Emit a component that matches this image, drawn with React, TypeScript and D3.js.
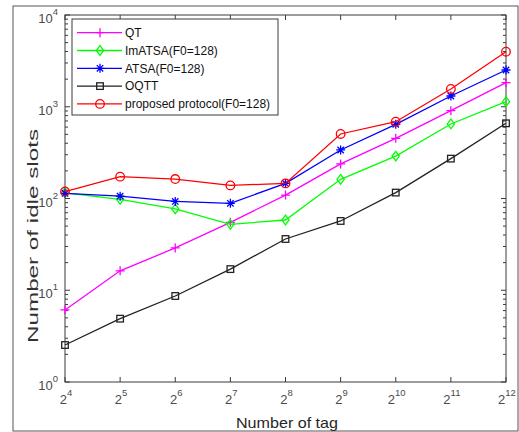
import React from "react";
import * as d3 from "d3";

const exponents = [4, 5, 6, 7, 8, 9, 10, 11, 12];
const qt = [6.1, 16.3, 28.9, 55, 109, 238, 453, 906, 1829];
const imatsa = [115, 98, 77, 52.3, 58.3, 162, 290, 649, 1136];
const atsa = [114, 106, 93, 88.6, 146, 338, 643, 1309, 2514];
const oqtt = [2.53, 4.9, 8.66, 17, 36.2, 56.9, 116, 272, 660];
const proposed = [119, 173, 163, 139, 146, 505, 687, 1561, 3981];
const seriesNames = ["QT", "ImATSA(F0=128)", "ATSA(F0=128)", "OQTT", "proposed protocol(F0=128)"];
const yDecades = [0, 1, 2, 3, 4];

const W = 519, H = 432;
const L = 65, R = 506, T = 15, B = 382;
const FONT = "'Liberation Sans', Arial, Helvetica, sans-serif";

type Marker = "plus" | "diamond" | "star" | "square" | "circle";
const series: { name: string; values: number[]; color: string; marker: Marker }[] = [
  { name: seriesNames[0], values: qt, color: "#ff00ff", marker: "plus" },
  { name: seriesNames[1], values: imatsa, color: "#00ff00", marker: "diamond" },
  { name: seriesNames[2], values: atsa, color: "#0000ff", marker: "star" },
  { name: seriesNames[3], values: oqtt, color: "#222222", marker: "square" },
  { name: seriesNames[4], values: proposed, color: "#ff0000", marker: "circle" },
];

function MarkerShape({ type, x, y, color }: { type: Marker; x: number; y: number; color: string }) {
  const common = { fill: "none", stroke: color, strokeWidth: 1.3 };
  switch (type) {
    case "plus":
      return <path d={`M${x - 4.5},${y}H${x + 4.5}M${x},${y - 4.5}V${y + 4.5}`} {...common} />;
    case "diamond":
      return <path d={`M${x},${y - 4.8}L${x + 3.6},${y}L${x},${y + 4.8}L${x - 3.6},${y}Z`} {...common} />;
    case "star":
      return (
        <path
          d={`M${x - 4.5},${y}H${x + 4.5}M${x},${y - 4.5}V${y + 4.5}M${x - 3.2},${y - 3.2}L${x + 3.2},${y + 3.2}M${x - 3.2},${y + 3.2}L${x + 3.2},${y - 3.2}`}
          {...common}
        />
      );
    case "square":
      return <rect x={x - 3.3} y={y - 3.3} width={6.6} height={6.6} {...common} />;
    case "circle":
      return <circle cx={x} cy={y} r={4.3} {...common} />;
  }
}

export default function App() {
  const x = d3.scaleLog().base(2).domain([16, 4096]).range([L, R]);
  const y = d3.scaleLog().domain([1, 10000]).range([B, T]);
  const line = d3
    .line<[number, number]>()
    .x((d) => x(d[0]))
    .y((d) => y(d[1]));

  const axisColor = "#3a3a3a";
  const tickText = "#4a4a4a";

  const minorTicks: number[] = [];
  for (let dcd = 0; dcd < 4; dcd++) {
    for (let m = 2; m <= 9; m++) minorTicks.push(m * Math.pow(10, dcd));
  }

  const legendX = 72, legendY = 19, legendW = 206, legendH = 96;
  const rowY = (i: number) => legendY + 13.7 + i * 17.8;

  return (
    <svg width={W} height={H} style={{ position: "absolute", left: 0, top: 0, background: "#fff" }} fontFamily={FONT}>
      <rect x={0} y={0} width={W} height={H} fill="#fff" />
      <rect x={13} y={6} width={505} height={425} fill="none" stroke="#555" strokeWidth={1} />
      {/* plot box */}
      <rect x={L} y={T} width={R - L} height={B - T} fill="#fff" stroke={axisColor} strokeWidth={1} />
      {/* x ticks */}
      {exponents.map((e) => {
        const px = x(Math.pow(2, e));
        return (
          <g key={"xt" + e}>
            <line x1={px} x2={px} y1={B} y2={B - 5} stroke={axisColor} />
            <line x1={px} x2={px} y1={T} y2={T + 5} stroke={axisColor} />
            <text x={px + 1} y={404} textAnchor="middle" fontSize={13} fill={tickText}>
              2<tspan fontSize={9.5} dy={-8}>{e}</tspan>
            </text>
          </g>
        );
      })}
      {/* y ticks */}
      {yDecades.map((dcd) => {
        const py = y(Math.pow(10, dcd));
        return (
          <g key={"yt" + dcd}>
            <line x1={L} x2={L + 5} y1={py} y2={py} stroke={axisColor} />
            <line x1={R} x2={R - 5} y1={py} y2={py} stroke={axisColor} />
            <text x={58} y={py + 8} textAnchor="end" fontSize={13} fill={tickText}>
              10<tspan fontSize={9.5} dy={-8}>{dcd}</tspan>
            </text>
          </g>
        );
      })}
      {minorTicks.map((v) => {
        const py = y(v);
        return (
          <g key={"mt" + v}>
            <line x1={L} x2={L + 3} y1={py} y2={py} stroke={axisColor} />
            <line x1={R} x2={R - 3} y1={py} y2={py} stroke={axisColor} />
          </g>
        );
      })}
      {/* series */}
      {series.map((s) => {
        const pts = exponents.map((e, i) => [Math.pow(2, e), s.values[i]] as [number, number]);
        return (
          <g key={s.name}>
            <path d={line(pts) || ""} fill="none" stroke={s.color} strokeWidth={1.3} />
            {pts.map((p, i) => (
              <MarkerShape key={i} type={s.marker} x={x(p[0])} y={y(p[1])} color={s.color} />
            ))}
          </g>
        );
      })}
      {/* legend */}
      <rect x={legendX} y={legendY} width={legendW} height={legendH} fill="#fff" stroke={axisColor} strokeWidth={1} />
      {series.map((s, i) => (
        <g key={"lg" + i}>
          <line x1={77} x2={122} y1={rowY(i)} y2={rowY(i)} stroke={s.color} strokeWidth={1.3} />
          <MarkerShape type={s.marker} x={100} y={rowY(i)} color={s.color} />
          <text x={125} y={rowY(i) + 4.3} fontSize={12} fill="#111">
            {s.name}
          </text>
        </g>
      ))}
      {/* axis labels */}
      <text x={287} y={428} textAnchor="middle" fontSize={15} fill="#262626" textLength={102} lengthAdjust="spacingAndGlyphs">
        Number of tag
      </text>
      <text
        transform="translate(38,236) rotate(-90)"
        textAnchor="middle"
        fontSize={14.5}
        fill="#333"
        textLength={214}
        lengthAdjust="spacingAndGlyphs"
      >
        Number of idle slots
      </text>
    </svg>
  );
}
